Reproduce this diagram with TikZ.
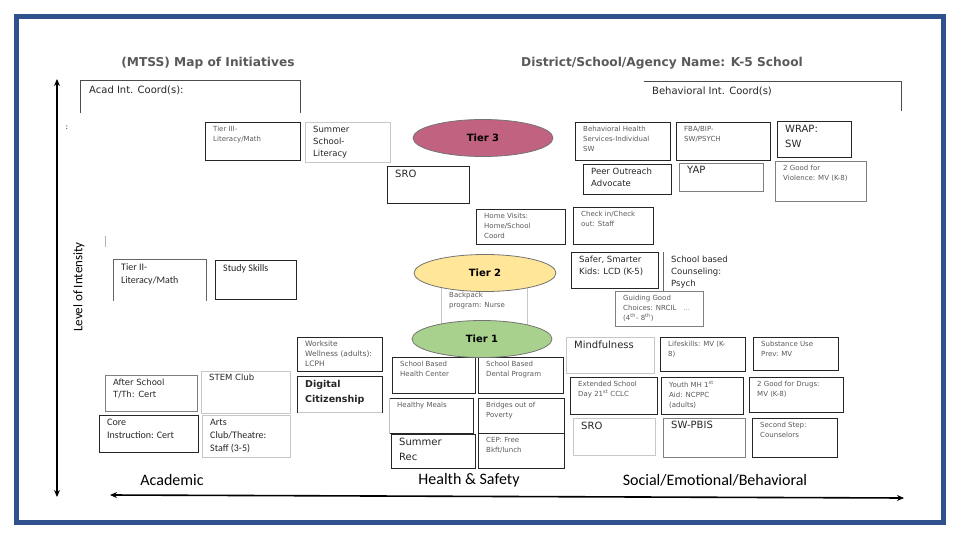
\documentclass[tikz,border=0pt]{standalone}
\usepackage{fontspec}
\setmainfont{Carlito}
\newfontfamily\verd{DejaVu Sans}
\usepackage{tikz}
\usetikzlibrary{positioning,arrows.meta,shapes.geometric}
\definecolor{frameblue}{RGB}{47,82,143}
\definecolor{tierpink}{RGB}{192,98,128}
\definecolor{tieryellow}{RGB}{255,230,153}
\definecolor{tiergreen}{RGB}{169,209,142}
\definecolor{titlegray}{RGB}{89,89,89}
\tikzset{
box/.style={
draw=black!85,
line width=0.8pt,
anchor=north west,
inner sep=0pt
},
lightbox/.style={box,draw=black!22},
midbox/.style={box,draw=black!50},
wh/.style 2 args={minimum width=#1pt,minimum height=#2pt},
edge/.style={draw=black!85,line width=0.8pt},
lbl/.style={
anchor=north west,
align=left,
inner sep=0pt,
xshift=8pt,
yshift=-4pt,
text=black!85
},
tiny/.style={lbl,font=\verd\fontsize{7}{10}\selectfont,text=black!65},
med/.style={lbl,font=\verd\fontsize{8.5}{12}\selectfont},
big/.style={lbl,font=\verd\fontsize{10}{15}\selectfont},
cal/.style={lbl,font=\fontsize{10}{13}\selectfont},
tier/.style={
ellipse,
draw=black!55,
line width=0.8pt,
minimum width=140pt,
minimum height=37pt,
font=\verd\bfseries\fontsize{10}{12}\selectfont
},
heading/.style={font=\verd\bfseries\fontsize{12.2}{14}\selectfont,text=titlegray},
axislabel/.style={font=\fontsize{16}{18}\selectfont},
axis/.style={
{Stealth[length=7pt,width=6pt]}-{Stealth[length=7pt,width=6pt]},
line width=1.6pt
}
}
\begin{document}
\begin{tikzpicture}[x=1pt,y=-1pt]
\useasboundingbox (0,0) rectangle (960,540);
\draw[frameblue,line width=5pt] (16.5,16.5) rectangle (943.5,522.5);

% headings
\node[heading](title) at (208,63){(MTSS) Map of Initiatives};
\node[heading](district) at (662,63){District/School/Agency Name: K-5 School};

% coordinators
\node[box,draw=none,wh={220}{32},label={[big,xshift=1pt,yshift=-2pt]north west:{Acad Int. Coord(s):}}](acad) at (80,80){};
\draw[edge,draw=black!70] (acad.south west) |- (acad.north east) -- (acad.south east);
\node[box,draw=none,wh={257}{29},label={[big,yshift=-2pt]north west:{Behavioral Int. Coord(s)}}](behav) at (644,81){};
\draw[edge,draw=black!70] (behav.north west) -- (behav.north east) -- (behav.south east);
\node[font=\fontsize{8}{9}\selectfont](colon) at (67,128){:};

% axes
\coordinate (vtop) at (57,79);
\coordinate (vbot) at (57,497);
\draw[axis](vtop)--(vbot);
\coordinate (hleft) at (110,495);
\coordinate (hright) at (904,498);
\draw[axis](hleft)--(hright);
\node[rotate=90,font=\fontsize{13}{15}\selectfont](level) at (79,287){Level of Intensity};
\node[axislabel](academic) at (172,480){Academic};
\node[axislabel](health) at (469,480){Health \& Safety};
\node[axislabel](social) at (715,480){Social/Emotional/Behavioral};

% tier 3 row
\node[box,wh={95}{38},label={[tiny]north west:{Tier III-\\Literacy/Math}}](tthreelit) at (205,122){};
\node[lightbox,wh={85}{40},label={[med]north west:{Summer\\School-\\Literacy}}](sumlit) at (305,122){};
\node[box,wh={82}{37},label={[big]north west:{SRO}}](srotop) at (387,166){};
\node[box,wh={95}{38},label={[tiny]north west:{Behavioral Health\\Services-Individual\\SW}}](bhs) at (575,122){};
\node[box,wh={94}{38},label={[tiny]north west:{FBA/BIP-\\SW/PSYCH}}](fba) at (676,122){};
\node[box,wh={74}{36},label={[big]north west:{WRAP:\\SW}}](wrap) at (777,121){};
\node[box,wh={88}{30},label={[med]north west:{Peer Outreach\\Advocate}}](peer) at (583,164){};
\node[midbox,wh={84}{28},label={[big,yshift=1pt]north west:{YAP}}](yap) at (679,163){};
\node[midbox,wh={91}{40},label={[tiny]north west:{2 Good for\\Violence: MV (K-8)}}](twogoodv) at (775,161){};

% tier 2 row
\node[box,wh={89}{35},label={[tiny]north west:{Home Visits:\\Home/School\\Coord}}](home) at (476,209){};
\node[box,wh={80}{37},label={[tiny]north west:{Check in/Check\\out: Staff}}](checkin) at (573,207){};
\node[box,wh={87}{36},label={[med]north west:{Safer, Smarter\\Kids: LCD (K-5)}}](safer) at (571,252){};
\node[box,draw=none,wh={90}{38},label={[med]north west:{School based\\Counseling:\\Psych}}](counsel) at (663,252){};
\draw[edge,draw=black!60](counsel.north west)--(counsel.south west);
\node[midbox,wh={88}{35},label={[tiny]north west:{Guiding Good\\Choices: NRCIL\quad{\color{black!40}...}\\(4\textsuperscript{th}- 8\textsuperscript{th})}}](guiding) at (615,291){};
\node[lightbox,wh={86}{55},label={[tiny,yshift=-8pt]north west:{Backpack\\program: Nurse}}](backpack) at (441,280){};
\draw[black!30,line width=0.8pt](105,236)--(105,247);
\node[box,draw=none,wh={93}{41},label={[cal]north west:{Tier II-\\Literacy/Math}}](ttwolit) at (113,259){};
\draw[edge,draw=black!60](ttwolit.south west)|-(ttwolit.north east)--(ttwolit.south east);
\node[box,wh={81}{39},label={[cal]north west:{Study Skills}}](study) at (215,260){};

% tier 1 rows
\node[box,wh={85}{34},label={[tiny,font=\verd\fontsize{7.5}{10}\selectfont]north west:{Worksite\\Wellness (adults):\\LCPH}}](worksite) at (297,337){};
\node[lightbox,wh={85}{36},label={[big,font=\verd\bfseries\fontsize{9.5}{15}\selectfont]north west:{Digital\\Citizenship}}](digital) at (297,376){};
\draw[edge](digital.south west)|-(digital.north east)--(digital.south east);
\node[box,wh={83}{36},label={[tiny]north west:{School Based\\Health Center}}](sbhc) at (392,357){};
\node[box,wh={85}{36},label={[tiny]north west:{School Based\\Dental Program}}](dental) at (478,357){};
\node[box,wh={84}{35},label={[tiny]north west:{Healthy Meals}}](meals) at (389,398){};
\draw[edge,draw=black!25](meals.north west)--(meals.south west);
\node[box,wh={86}{35},label={[tiny]north west:{Bridges out of\\Poverty}}](bridges) at (478,398){};
\node[box,wh={84}{34},label={[big]north west:{Summer\\Rec}}](sumrec) at (391,434){};
\node[box,wh={86}{35},label={[tiny]north west:{CEP: Free\\Bkft/lunch}}](cep) at (478,433){};
\node[midbox,wh={92}{36},label={[med]north west:{After School\\T/Th: Cert}}](after) at (105,375){};
\node[lightbox,wh={89}{42},label={[med,yshift=1pt]north west:{STEM Club}}](stem) at (201,371){};
\node[box,wh={99}{37},label={[cal]north west:{Core\\Instruction: Cert}}](core) at (99,415){};
\node[lightbox,wh={88}{42},label={[cal]north west:{Arts\\Club/Theatre:\\Staff (3-5)}}](arts) at (202,415){};
\node[lightbox,wh={88}{36},label={[big]north west:{Mindfulness}}](mindful) at (566,337){};
\node[box,wh={85}{34},label={[tiny]north west:{Lifeskills: MV (K-\\8)}}](lifeskills) at (660,337){};
\node[box,wh={85}{33},label={[tiny]north west:{Substance Use\\Prev: MV}}](subst) at (753,337){};
\node[box,wh={87}{37},label={[tiny]north west:{Extended School\\Day 21\textsuperscript{st} CCLC}}](extended) at (570,377){};
\node[box,wh={82}{37},label={[tiny]north west:{Youth MH 1\textsuperscript{st}\\Aid: NCPPC\\(adults)}}](youthmh) at (661,377){};
\node[box,wh={94}{35},label={[tiny]north west:{2 Good for Drugs:\\MV (K-8)}}](twogoodd) at (749,377){};
\node[lightbox,wh={82}{37},label={[big]north west:{SRO}}](srobot) at (573,418){};
\node[midbox,wh={82}{39},label={[big,yshift=1pt]north west:{SW-PBIS}}](pbis) at (663,418){};
\node[box,wh={85}{39},label={[tiny]north west:{Second Step:\\Counselors}}](secondstep) at (752,418){};

% tiers
\node[tier,fill=tierpink](tierthree) at (483,138){Tier 3};
\node[tier,fill=tieryellow,minimum width=142pt](tiertwo) at (485,273){Tier 2};
\node[tier,fill=tiergreen,minimum width=140pt](tierone) at (482,339){Tier 1};
\end{tikzpicture}
\end{document}
